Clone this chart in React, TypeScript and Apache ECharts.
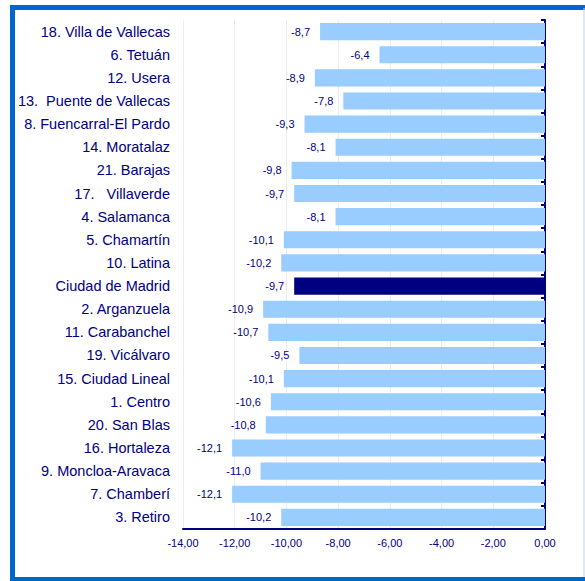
import React, { useEffect, useRef } from "react";
import * as echarts from "echarts";

const categories = [
  "18. Villa de Vallecas",
  "6. Tetuán",
  "12. Usera",
  "13.  Puente de Vallecas",
  "8. Fuencarral-El Pardo",
  "14. Moratalaz",
  "21. Barajas",
  "17.   Villaverde",
  "4. Salamanca",
  "5. Chamartín",
  "10. Latina",
  "Ciudad de Madrid",
  "2. Arganzuela",
  "11. Carabanchel",
  "19. Vicálvaro",
  "15. Ciudad Lineal",
  "1. Centro",
  "20. San Blas",
  "16. Hortaleza",
  "9. Moncloa-Aravaca",
  "7. Chamberí",
  "3. Retiro",
];

const values = [
  -8.7, -6.4, -8.9, -7.8, -9.3, -8.1, -9.8, -9.7, -8.1, -10.1, -10.2, -9.7,
  -10.9, -10.7, -9.5, -10.1, -10.6, -10.8, -12.1, -11.0, -12.1, -10.2,
];

const highlight = "Ciudad de Madrid";
const xMin = -14;
const xMax = 0;
const xStep = 2;

const NAVY = "#000080";
const BAR = "#99CCFF";
const FONT = "'Liberation Sans', Arial, sans-serif";

export default function App() {
  const ref = useRef<HTMLDivElement>(null);
  useEffect(() => {
    if (!ref.current) return;
    const chart = echarts.init(ref.current, null, { renderer: "svg" });
    chart.setOption({
      animation: false,
      backgroundColor: "#ffffff",
      grid: { left: 183, right: 40, top: 20, bottom: 52 },
      xAxis: {
        type: "value",
        min: xMin,
        max: xMax,
        interval: xStep,
        axisLine: { show: true, onZero: false, lineStyle: { color: NAVY, width: 2 } },
        axisTick: { show: false },
        axisLabel: {
          color: NAVY,
          fontFamily: FONT,
          fontSize: 11,
          margin: 8,
          formatter: (v: number) => v.toFixed(2).replace(".", ","),
        },
        splitLine: { show: true, lineStyle: { color: "#ececec", width: 1 } },
      },
      yAxis: [
        {
          type: "category",
          data: categories,
          inverse: true,
          position: "left",
          axisLine: { show: false },
          axisTick: { show: false },
          axisLabel: {
            color: NAVY,
            fontFamily: FONT,
            fontSize: 14.5,
            margin: 13,
          },
        },
        {
          type: "category",
          data: categories,
          inverse: true,
          position: "right",
          axisLine: { show: true, onZero: false, lineStyle: { color: NAVY, width: 2 } },
          axisTick: { show: true, inside: true, length: 4, lineStyle: { color: NAVY, width: 2 } },
          axisLabel: { show: false },
        },
      ],
      series: [
        {
          type: "bar",
          yAxisIndex: 0,
          barCategoryGap: "26%",
          data: values.map((v, i) => ({
            value: v,
            itemStyle: { color: categories[i] === highlight ? NAVY : BAR },
          })),
          label: {
            show: true,
            position: "left",
            distance: 10,
            color: NAVY,
            fontFamily: FONT,
            fontSize: 11,
            formatter: (p: any) => Number(p.value).toFixed(1).replace(".", ","),
          },
        },
      ],
      graphic: [
        {
          type: "rect",
          shape: { x: 12.5, y: 7.5, width: 580, height: 572 },
          style: { fill: "none", stroke: "#0066CC", lineWidth: 5 },
          z: 100,
        },
        {
          type: "line",
          shape: { x1: 584, y1: 8, x2: 584, y2: 577 },
          style: { stroke: "#BBD5EE", lineWidth: 1 },
          z: 100,
        },
      ],
    });
    return () => chart.dispose();
  }, []);
  return (
    <div
      ref={ref}
      style={{ position: "fixed", left: 0, top: 0, width: 585, height: 581 }}
    />
  );
}
